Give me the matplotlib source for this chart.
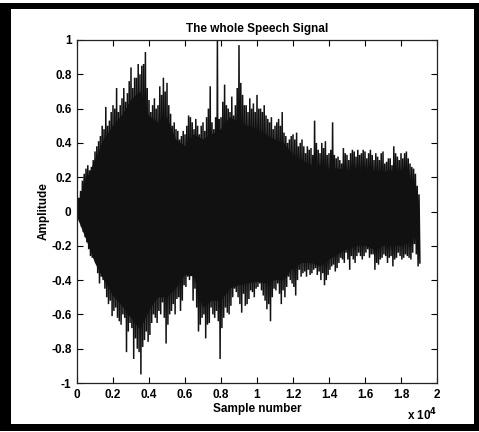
import matplotlib
matplotlib.use("Agg")
import matplotlib.pyplot as plt
from matplotlib.patches import Rectangle

plt.rcParams["font.family"] = ["Liberation Sans Narrow", "Liberation Sans", "DejaVu Sans"]
plt.rcParams["font.weight"] = "bold"

# Positive peaks at samples 0, 200, ..., 19000
upper_peaks_a = [
    0.04, 0.12, 0.22, 0.27, 0.26, 0.35, 0.41, 0.50, 0.61, 0.53,
    0.62, 0.72, 0.62, 0.72, 0.69, 0.84, 0.78, 0.86, 0.85, 0.93,
    0.65, 0.62, 0.60, 0.73, 0.78, 0.75, 0.57, 0.52, 0.47, 0.44,
    0.45, 0.56, 0.52, 0.54, 0.45, 0.52, 0.55, 0.73, 0.48, 1.00,
    0.55, 0.74, 0.60, 0.67, 0.62, 0.97, 0.68, 0.62, 0.66, 0.63,
    0.68, 0.60, 0.62, 0.54, 0.55, 0.50, 0.54, 0.58, 0.44, 0.42,
    0.45, 0.46, 0.40, 0.38, 0.38, 0.37, 0.53, 0.36, 0.40, 0.41,
    0.34, 0.52, 0.31, 0.30, 0.37, 0.33, 0.34, 0.35, 0.36, 0.34,
    0.35, 0.34, 0.33, 0.34, 0.30, 0.35, 0.29, 0.31, 0.38, 0.32,
    0.34, 0.34, 0.31, 0.26, 0.22, 0.10,
]
# Positive peaks at samples 100, 300, ..., 18900
upper_peaks_b = [
    0.08, 0.18, 0.25, 0.24, 0.30, 0.38, 0.44, 0.48, 0.50, 0.58,
    0.60, 0.58, 0.66, 0.64, 0.76, 0.72, 0.78, 0.80, 0.86, 0.72,
    0.58, 0.66, 0.62, 0.68, 0.70, 0.62, 0.50, 0.48, 0.42, 0.47,
    0.50, 0.55, 0.48, 0.50, 0.50, 0.47, 0.60, 0.52, 0.55, 0.54,
    0.64, 0.62, 0.58, 0.56, 0.72, 0.75, 0.62, 0.58, 0.60, 0.58,
    0.60, 0.58, 0.56, 0.52, 0.48, 0.52, 0.50, 0.46, 0.40, 0.44,
    0.42, 0.38, 0.42, 0.34, 0.36, 0.33, 0.40, 0.34, 0.37, 0.33,
    0.36, 0.33, 0.32, 0.28, 0.34, 0.30, 0.36, 0.32, 0.33, 0.36,
    0.31, 0.36, 0.30, 0.32, 0.34, 0.28, 0.31, 0.27, 0.34, 0.30,
    0.31, 0.35, 0.28, 0.25, 0.15,
]

# Negative peaks at samples 0, 200, ..., 19000
lower_peaks_a = [
    -0.03, -0.09, -0.15, -0.22, -0.27, -0.30, -0.42, -0.40, -0.50, -0.52,
    -0.58, -0.62, -0.66, -0.62, -0.70, -0.68, -0.74, -0.82, -0.79, -0.70,
    -0.72, -0.60, -0.65, -0.60, -0.62, -0.66, -0.58, -0.60, -0.50, -0.52,
    -0.44, -0.40, -0.52, -0.56, -0.66, -0.60, -0.66, -0.56, -0.62, -0.64,
    -0.68, -0.56, -0.60, -0.50, -0.47, -0.54, -0.48, -0.54, -0.46, -0.50,
    -0.44, -0.46, -0.52, -0.54, -0.50, -0.46, -0.48, -0.46, -0.44, -0.40,
    -0.44, -0.40, -0.38, -0.35, -0.34, -0.36, -0.33, -0.35, -0.36, -0.40,
    -0.34, -0.31, -0.33, -0.27, -0.30, -0.28, -0.26, -0.30, -0.24, -0.28,
    -0.24, -0.27, -0.25, -0.30, -0.28, -0.25, -0.30, -0.26, -0.28, -0.24,
    -0.28, -0.25, -0.27, -0.24, -0.25, -0.30,
]
# Negative peaks at samples 100, 300, ..., 18900
lower_peaks_b = [
    -0.06, -0.12, -0.18, -0.26, -0.25, -0.36, -0.38, -0.45, -0.54, -0.61,
    -0.56, -0.64, -0.60, -0.82, -0.65, -0.86, -0.80, -0.95, -0.75, -0.76,
    -0.65, -0.62, -0.58, -0.53, -0.77, -0.60, -0.54, -0.51, -0.58, -0.43,
    -0.38, -0.34, -0.45, -0.70, -0.62, -0.74, -0.65, -0.60, -0.58, -0.86,
    -0.62, -0.59, -0.55, -0.45, -0.50, -0.59, -0.55, -0.51, -0.47, -0.45,
    -0.42, -0.49, -0.57, -0.64, -0.45, -0.42, -0.54, -0.50, -0.38, -0.42,
    -0.49, -0.34, -0.36, -0.38, -0.37, -0.34, -0.37, -0.40, -0.43, -0.37,
    -0.32, -0.35, -0.30, -0.28, -0.24, -0.34, -0.28, -0.26, -0.26, -0.26,
    -0.22, -0.25, -0.34, -0.31, -0.27, -0.26, -0.27, -0.32, -0.27, -0.26,
    -0.27, -0.26, -0.28, -0.19, -0.32,
]

# Level up to which the waveform is densely filled, every 500 samples (0 .. 19000)
upper_body = [
    0.02, 0.18, 0.30, 0.42, 0.50, 0.56, 0.65, 0.70, 0.56, 0.52,
    0.55, 0.42, 0.38, 0.45, 0.42, 0.45, 0.48, 0.55, 0.52, 0.50,
    0.48, 0.45, 0.42, 0.40, 0.33, 0.30, 0.27, 0.27, 0.25, 0.25,
    0.24, 0.25, 0.24, 0.24, 0.23, 0.24, 0.22, 0.18, 0.05,
]
lower_body = [
    -0.03, -0.16, -0.30, -0.40, -0.49, -0.55, -0.62, -0.69, -0.58, -0.50,
    -0.50, -0.45, -0.37, -0.38, -0.56, -0.52, -0.52, -0.45, -0.43, -0.42,
    -0.41, -0.42, -0.40, -0.40, -0.33, -0.30, -0.30, -0.32, -0.28, -0.25,
    -0.22, -0.20, -0.20, -0.22, -0.20, -0.20, -0.20, -0.18, -0.10,
]

x_ticks = [0, 2000, 4000, 6000, 8000, 10000, 12000, 14000, 16000, 18000, 20000]
x_tick_labels = ["0", "0.2", "0.4", "0.6", "0.8", "1", "1.2", "1.4", "1.6", "1.8", "2"]
y_ticks = [-1, -0.8, -0.6, -0.4, -0.2, 0, 0.2, 0.4, 0.6, 0.8, 1]
y_tick_labels = ["-1", "-0.8", "-0.6", "-0.4", "-0.2", "0", "0.2", "0.4", "0.6", "0.8", "1"]

INK = "#111111"


def interleave(a, b):
    out = []
    for i, v in enumerate(a):
        out.append(v)
        if i < len(b):
            out.append(b[i])
    return out


upper = interleave(upper_peaks_a, upper_peaks_b)   # samples 0, 100, ..., 19000
lower = interleave(lower_peaks_a, lower_peaks_b)   # samples 0, 100, ..., 19000

# One oscillating trace: each positive peak followed by a negative peak
step = 100
xs, ys = [], []
for k in range(len(upper)):
    xs.append(k * step)
    ys.append(upper[k])
    xs.append(k * step + step // 2)
    ys.append(lower[k])

# Outline of the dense core of the signal
body_step = 500
bx = [i * body_step for i in range(len(upper_body))]
poly_x = bx + bx[::-1]
poly_y = upper_body + lower_body[::-1]

W, H = 479, 432
fig = plt.figure(figsize=(W / 100, H / 100), dpi=100)
fig.patch.set_facecolor("white")

ax = fig.add_axes([77 / W, 1 - 383 / H, 360 / W, 343 / H])
ax.fill(poly_x, poly_y, color=INK, linewidth=0)
ax.plot(xs, ys, color=INK, linewidth=1.1, solid_joinstyle="miter")

ax.set_xlim(0, 20000)
ax.set_ylim(-1, 1)
ax.set_xticks(x_ticks)
ax.set_xticklabels(x_tick_labels)
ax.set_yticks(y_ticks)
ax.set_yticklabels(y_tick_labels)
ax.tick_params(direction="in", length=4, width=0.8, top=True, right=True,
               labelsize=8.5, pad=4, colors="black")
for lbl in ax.get_xticklabels() + ax.get_yticklabels():
    lbl.set_fontweight("bold")
for sp in ax.spines.values():
    sp.set_linewidth(0.9)
    sp.set_color("#222222")

ax.set_title("The whole Speech Signal", fontsize=8.5, fontweight="bold", pad=6)
ax.set_xlabel("Sample number", fontsize=8.5, fontweight="bold", labelpad=2)
ax.set_ylabel("Amplitude", fontsize=8.5, fontweight="bold", labelpad=1)

fig.text(437 / W, 1 - 420 / H, r"x 10$^4$", ha="right", va="baseline",
         fontsize=8.5, fontweight="bold")

# Black outer frame
def band(x0, y0, x1, y1):
    fig.patches.append(Rectangle((x0 / W, 1 - y1 / H), (x1 - x0) / W, (y1 - y0) / H,
                                 transform=fig.transFigure, facecolor="black",
                                 edgecolor="none", zorder=10))

band(0, 3, W, 9)
band(0, 3, 11, 431)
band(474, 3, W, 431)
band(0, 424, W, 431)

fig.savefig("out.png", dpi=100, facecolor="white")
